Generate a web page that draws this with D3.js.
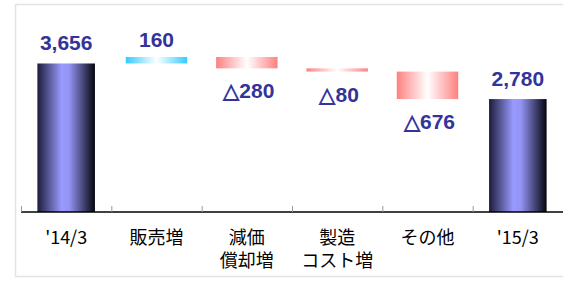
<!DOCTYPE html>
<html>
<head>
<meta charset="utf-8">
<script src="https://cdn.jsdelivr.net/npm/d3@7"></script>
<style>
  body { margin: 0; background: #fff; }
  svg { display: block; }
</style>
</head>
<body>
<div class="chart"></div>
<script>
// ---- data ----
var categories = ["'14/3", "販売増", "減価\n償却増", "製造\nコスト増", "その他", "'15/3"];
var values = [3656, 160, -280, -80, -676, 2780];
var kinds = ["total", "change", "change", "change", "change", "total"];
var labels = ["3,656", "160", "△280", "△80", "△676", "2,780"];

var W = 563, H = 286;
var axisY = 212;

var svg = d3.select('.chart').append('svg')
	.attr('width', W)
	.attr('height', H);

// gradients
var defs = svg.append('defs');
function grad(id, stops) {
	var g = defs.append('linearGradient').attr('id', id)
		.attr('x1', '0%').attr('x2', '100%').attr('y1', '0%').attr('y2', '0%');
	stops.forEach(function(s) {
		g.append('stop').attr('offset', s[0]).attr('stop-color', s[1]);
	});
}
grad('gTotal', [['0%', '#1c1c3a'], ['42%', '#9999ff'], ['55%', '#9494f6'], ['100%', '#05050f']]);
grad('gUp', [['0%', '#33ccff'], ['50%', '#ffffff'], ['100%', '#33ccff']]);
grad('gDown', [['0%', '#ff8080'], ['50%', '#ffffff'], ['100%', '#ff8080']]);

// frame
svg.append('rect')
	.attr('x', 15.5).attr('y', 4.5)
	.attr('width', 620).attr('height', 272)
	.attr('fill', 'none')
	.attr('stroke', '#e3e3e3')
	.attr('stroke-width', 1.5);

// scales
var x = d3.scaleBand().domain(categories).range([21, 563]);
var y = d3.scaleLinear().domain([0, 4000]).range([axisY, 49.5]);

// waterfall running values
var running = 0;
var bars = values.map(function(v, i) {
	var b;
	if (kinds[i] === 'total') {
		running = v;
		b = { lo: 0, hi: v, v: v };
	} else {
		var start = running;
		running += v;
		b = { lo: Math.min(start, running), hi: Math.max(start, running), v: v };
	}
	b.cat = categories[i];
	b.kind = kinds[i];
	b.label = labels[i];
	return b;
});

bars.forEach(function(b) {
	var bw = b.kind === 'total' ? x.bandwidth() * 0.637 : x.bandwidth() * 0.68;
	var cx = x(b.cat) + x.bandwidth() / 2;
	var fill = b.kind === 'total' ? 'url(#gTotal)' : (b.v >= 0 ? 'url(#gUp)' : 'url(#gDown)');
	svg.append('rect')
		.attr('x', cx - bw / 2)
		.attr('y', y(b.hi))
		.attr('width', bw)
		.attr('height', y(b.lo) - y(b.hi))
		.attr('fill', fill);

	var ty, tx = cx;
	if (b.kind === 'total') ty = y(b.hi) - 13;
	else if (b.v >= 0) ty = y(b.hi) - 10;
	else { ty = y(b.lo) + 30; tx = cx + 2; }
	svg.append('text')
		.attr('x', tx)
		.attr('y', ty)
		.attr('text-anchor', 'middle')
		.attr('font-family', 'Liberation Sans, Arial, sans-serif')
		.attr('font-weight', 'bold')
		.attr('font-size', 21)
		.attr('fill', '#333399')
		.text(b.label);
});

// axis
var axis = svg.append('g');
axis.append('line')
	.attr('x1', 21).attr('x2', 563)
	.attr('y1', axisY).attr('y2', axisY)
	.attr('stroke', '#000').attr('stroke-width', 1.5);
categories.forEach(function(c) {
	axis.append('line')
		.attr('x1', x(c) + 0.5).attr('x2', x(c) + 0.5)
		.attr('y1', axisY - 6).attr('y2', axisY)
		.attr('stroke', '#999').attr('stroke-width', 1);
});

// category labels
categories.forEach(function(c) {
	var t = svg.append('text')
		.attr('text-anchor', 'middle')
		.attr('font-family', 'Noto Sans CJK JP, sans-serif')
		.attr('font-size', 18)
		.attr('fill', '#000');
	c.split('\n').forEach(function(line, j) {
		t.append('tspan')
			.attr('x', x(c) + x.bandwidth() / 2)
			.attr('y', 244 + j * 23)
			.text(line);
	});
});
</script>
</body>
</html>
